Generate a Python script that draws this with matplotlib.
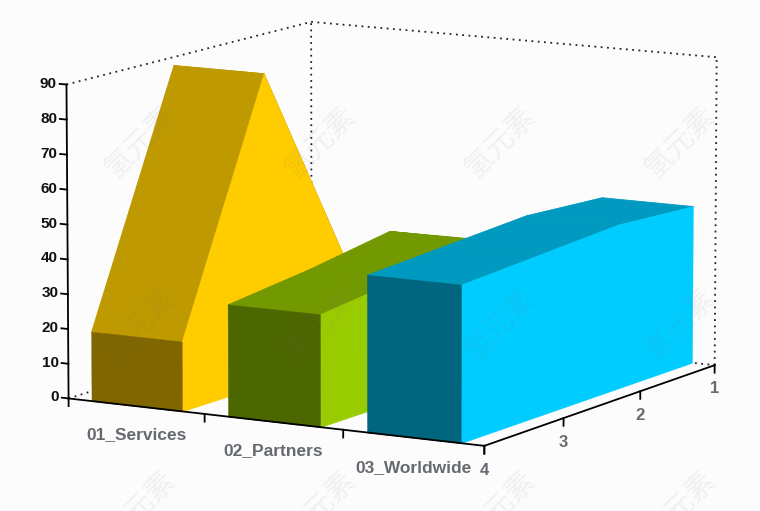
import matplotlib
matplotlib.use('Agg')
import matplotlib.pyplot as plt
from mpl_toolkits.mplot3d.art3d import Poly3DCollection

# Values per depth row
categories = ['01_Services', '02_Partners', '03_Worldwide']
rows = [1, 2, 3, 4]
services = [10, 30, 90, 20]
partners = [30, 39, 35, 32]
worldwide = [46, 47.5, 46, 44.5]
series = [services, partners, worldwide]
z_ticks = [0, 10, 20, 30, 40, 50, 60, 70, 80, 90]

# front, top, side colours per series
colors = [('#806600', '#BF9900', '#FFCC00'),
          ('#4C6600', '#739900', '#99CC00'),
          ('#006680', '#0099BF', '#00CCFF')]
BG = '#FCFCFC'
W, H = 760, 511
S = 800

plt.rcParams['font.family'] = ['Liberation Sans', 'DejaVu Sans']
fig = plt.figure(figsize=(W / 100, H / 100), dpi=100, facecolor=BG)
ax = fig.add_axes([-16 / W, -126.5 / H, S / W, S / H], projection='3d', facecolor='none')
ax.computed_zorder = False
ax.set_xlim(0, 3)
ax.set_ylim(4, 1)
ax.set_zlim(0, 90)
ax.set_box_aspect((473, 474, 315), zoom=0.900)
ax.set_proj_type('persp', focal_length=2)
ax.view_init(elev=10, azim=-60)
ax.set_axis_off()

# box guides
dot = dict(color='#222222', lw=1.3, ls=(0, (1, 2.5)), zorder=1)
ax.plot([0, 0], [4, 1], [90, 90], **dot)
ax.plot([0, 3], [1, 1], [90, 90], **dot)
ax.plot([0, 0], [1, 1], [0, 90], **dot)
ax.plot([3, 3], [1, 1], [0, 90], **dot)
ax.plot([0, 0], [4, 1], [0, 0], **dot)
ax.plot([0, 3], [1, 1], [0, 0], **dot)

# ribbons
order = 2
for i, vals in enumerate(series):
    x0, x1 = i + 0.17, i + 0.835
    front, top, side = colors[i]
    for k in range(len(rows) - 1):
        y0, y1 = rows[k], rows[k + 1]
        v0, v1 = vals[k], vals[k + 1]
        top_face = [(x0, y0, v0), (x1, y0, v0), (x1, y1, v1), (x0, y1, v1)]
        ax.add_collection3d(Poly3DCollection([top_face], facecolor=top, edgecolor=top,
                                             linewidth=0.6, zorder=order))
        order += 1
    side_face = [(x1, rows[0], 0), (x1, rows[-1], 0)]
    side_face += [(x1, r, v) for r, v in zip(rows[::-1], vals[::-1])]
    ax.add_collection3d(Poly3DCollection([side_face], facecolor=side, edgecolor=side,
                                         linewidth=0.3, zorder=order))
    order += 1
    end = vals[-1]
    front_face = [(x0, 4, 0), (x1, 4, 0), (x1, 4, end), (x0, 4, end)]
    ax.add_collection3d(Poly3DCollection([front_face], facecolor=front, edgecolor=front,
                                         linewidth=0.3, zorder=order))
    order += 1

# axes and ticks
solid = dict(color='black', lw=1.3, zorder=order)
ax.plot([0, 3], [4, 4], [0, 0], **solid)
ax.plot([3, 3], [4, 1], [0, 0], **solid)
ax.plot([0, 0], [4, 4], [0, 90], **solid)
for z in z_ticks:
    ax.plot([0, -0.05], [4, 4], [z, z], **solid)
    ax.text(-0.07, 4, z, str(z), ha='right', va='center', fontsize=11, fontweight='bold',
            color='#111111', zorder=order)
for i in range(4):
    ax.plot([i, i], [4, 4], [0, -2.2], **solid)
for r in rows:
    ax.plot([3, 3], [r, r], [0, -2.2], **solid)
    ax.text(3, r, -7, str(r), ha='center', va='center', fontsize=12, fontweight='bold',
            color='#666a70', zorder=order)
for i, name in enumerate(categories):
    ax.text(i + 0.5, 4, -8.3, name, ha='center', va='center', fontsize=12.5, fontweight='bold',
            color='#666a70', zorder=order)

# watermark
for px in (140, 320, 500, 680):
    for py in (143, 325, 507):
        fig.text(px / W, 1 - py / H, '氢元素', rotation=45, ha='center', va='center',
                 fontsize=21, color='#777777', alpha=0.09, zorder=50,
                 family=['Noto Sans CJK SC', 'DejaVu Sans'])

fig.savefig('out.png', dpi=100, facecolor=BG)
